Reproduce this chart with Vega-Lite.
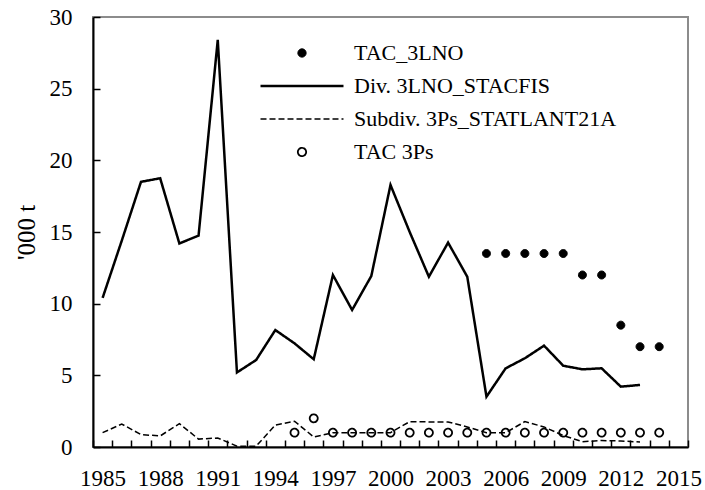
{
  "$schema": "https://vega.github.io/schema/vega-lite/v6.json",
  "width": 595,
  "height": 430,
  "autosize": {"type": "none"},
  "padding": {"left": 93, "top": 17, "right": 17, "bottom": 43},
  "background": "white",
  "config": {
    "view": {"stroke": "#8c8c8c", "strokeWidth": 2},
    "font": "Liberation Serif",
    "axis": {
      "grid": false,
      "domainColor": "black",
      "domainWidth": 2,
      "tickColor": "black",
      "tickWidth": 1.5,
      "labelColor": "black",
      "labelFont": "Liberation Serif",
      "labelFontSize": 23,
      "titleFont": "Liberation Serif",
      "titleFontWeight": "normal",
      "titleColor": "black"
    },
    "legend": {
      "orient": "none",
      "legendX": 166,
      "legendY": 24,
      "padding": 0,
      "symbolSize": 6889,
      "symbolStrokeColor": "black",
      "symbolOpacity": 1,
      "clipHeight": 24,
      "labelFont": "Liberation Serif",
      "labelFontSize": 22,
      "labelColor": "black",
      "labelOffset": 9,
      "rowPadding": 9,
      "labelLimit": 400
    }
  },
  "data": {
    "values": [
      {"year": 1985, "value": 10.4, "series": "Div. 3LNO_STACFIS"},
      {"year": 1986, "value": 14.4, "series": "Div. 3LNO_STACFIS"},
      {"year": 1987, "value": 18.5, "series": "Div. 3LNO_STACFIS"},
      {"year": 1988, "value": 18.75, "series": "Div. 3LNO_STACFIS"},
      {"year": 1989, "value": 14.2, "series": "Div. 3LNO_STACFIS"},
      {"year": 1990, "value": 14.75, "series": "Div. 3LNO_STACFIS"},
      {"year": 1991, "value": 28.4, "series": "Div. 3LNO_STACFIS"},
      {"year": 1992, "value": 5.2, "series": "Div. 3LNO_STACFIS"},
      {"year": 1993, "value": 6.07, "series": "Div. 3LNO_STACFIS"},
      {"year": 1994, "value": 8.16, "series": "Div. 3LNO_STACFIS"},
      {"year": 1995, "value": 7.23, "series": "Div. 3LNO_STACFIS"},
      {"year": 1996, "value": 6.12, "series": "Div. 3LNO_STACFIS"},
      {"year": 1997, "value": 12.0, "series": "Div. 3LNO_STACFIS"},
      {"year": 1998, "value": 9.56, "series": "Div. 3LNO_STACFIS"},
      {"year": 1999, "value": 11.93, "series": "Div. 3LNO_STACFIS"},
      {"year": 2000, "value": 18.28, "series": "Div. 3LNO_STACFIS"},
      {"year": 2001, "value": 15.0, "series": "Div. 3LNO_STACFIS"},
      {"year": 2002, "value": 11.88, "series": "Div. 3LNO_STACFIS"},
      {"year": 2003, "value": 14.26, "series": "Div. 3LNO_STACFIS"},
      {"year": 2004, "value": 11.88, "series": "Div. 3LNO_STACFIS"},
      {"year": 2005, "value": 3.51, "series": "Div. 3LNO_STACFIS"},
      {"year": 2006, "value": 5.49, "series": "Div. 3LNO_STACFIS"},
      {"year": 2007, "value": 6.19, "series": "Div. 3LNO_STACFIS"},
      {"year": 2008, "value": 7.07, "series": "Div. 3LNO_STACFIS"},
      {"year": 2009, "value": 5.67, "series": "Div. 3LNO_STACFIS"},
      {"year": 2010, "value": 5.42, "series": "Div. 3LNO_STACFIS"},
      {"year": 2011, "value": 5.49, "series": "Div. 3LNO_STACFIS"},
      {"year": 2012, "value": 4.21, "series": "Div. 3LNO_STACFIS"},
      {"year": 2013, "value": 4.33, "series": "Div. 3LNO_STACFIS"},

      {"year": 1985, "value": 1.0, "series": "Subdiv. 3Ps_STATLANT21A"},
      {"year": 1986, "value": 1.6, "series": "Subdiv. 3Ps_STATLANT21A"},
      {"year": 1987, "value": 0.87, "series": "Subdiv. 3Ps_STATLANT21A"},
      {"year": 1988, "value": 0.77, "series": "Subdiv. 3Ps_STATLANT21A"},
      {"year": 1989, "value": 1.63, "series": "Subdiv. 3Ps_STATLANT21A"},
      {"year": 1990, "value": 0.55, "series": "Subdiv. 3Ps_STATLANT21A"},
      {"year": 1991, "value": 0.63, "series": "Subdiv. 3Ps_STATLANT21A"},
      {"year": 1992, "value": 0.06, "series": "Subdiv. 3Ps_STATLANT21A"},
      {"year": 1993, "value": 0.06, "series": "Subdiv. 3Ps_STATLANT21A"},
      {"year": 1994, "value": 1.53, "series": "Subdiv. 3Ps_STATLANT21A"},
      {"year": 1995, "value": 1.8, "series": "Subdiv. 3Ps_STATLANT21A"},
      {"year": 1996, "value": 0.7, "series": "Subdiv. 3Ps_STATLANT21A"},
      {"year": 1997, "value": 1.0, "series": "Subdiv. 3Ps_STATLANT21A"},
      {"year": 1998, "value": 1.0, "series": "Subdiv. 3Ps_STATLANT21A"},
      {"year": 1999, "value": 1.0, "series": "Subdiv. 3Ps_STATLANT21A"},
      {"year": 2000, "value": 1.0, "series": "Subdiv. 3Ps_STATLANT21A"},
      {"year": 2001, "value": 1.77, "series": "Subdiv. 3Ps_STATLANT21A"},
      {"year": 2002, "value": 1.75, "series": "Subdiv. 3Ps_STATLANT21A"},
      {"year": 2003, "value": 1.75, "series": "Subdiv. 3Ps_STATLANT21A"},
      {"year": 2004, "value": 1.4, "series": "Subdiv. 3Ps_STATLANT21A"},
      {"year": 2005, "value": 1.0, "series": "Subdiv. 3Ps_STATLANT21A"},
      {"year": 2006, "value": 1.0, "series": "Subdiv. 3Ps_STATLANT21A"},
      {"year": 2007, "value": 1.77, "series": "Subdiv. 3Ps_STATLANT21A"},
      {"year": 2008, "value": 1.4, "series": "Subdiv. 3Ps_STATLANT21A"},
      {"year": 2009, "value": 0.8, "series": "Subdiv. 3Ps_STATLANT21A"},
      {"year": 2010, "value": 0.37, "series": "Subdiv. 3Ps_STATLANT21A"},
      {"year": 2011, "value": 0.45, "series": "Subdiv. 3Ps_STATLANT21A"},
      {"year": 2012, "value": 0.42, "series": "Subdiv. 3Ps_STATLANT21A"},
      {"year": 2013, "value": 0.35, "series": "Subdiv. 3Ps_STATLANT21A"},

      {"year": 2005, "value": 13.5, "series": "TAC_3LNO"},
      {"year": 2006, "value": 13.5, "series": "TAC_3LNO"},
      {"year": 2007, "value": 13.5, "series": "TAC_3LNO"},
      {"year": 2008, "value": 13.5, "series": "TAC_3LNO"},
      {"year": 2009, "value": 13.5, "series": "TAC_3LNO"},
      {"year": 2010, "value": 12.0, "series": "TAC_3LNO"},
      {"year": 2011, "value": 12.0, "series": "TAC_3LNO"},
      {"year": 2012, "value": 8.5, "series": "TAC_3LNO"},
      {"year": 2013, "value": 7.0, "series": "TAC_3LNO"},
      {"year": 2014, "value": 7.0, "series": "TAC_3LNO"},

      {"year": 1995, "value": 1.0, "series": "TAC 3Ps"},
      {"year": 1996, "value": 2.0, "series": "TAC 3Ps"},
      {"year": 1997, "value": 1.0, "series": "TAC 3Ps"},
      {"year": 1998, "value": 1.0, "series": "TAC 3Ps"},
      {"year": 1999, "value": 1.0, "series": "TAC 3Ps"},
      {"year": 2000, "value": 1.0, "series": "TAC 3Ps"},
      {"year": 2001, "value": 1.0, "series": "TAC 3Ps"},
      {"year": 2002, "value": 1.0, "series": "TAC 3Ps"},
      {"year": 2003, "value": 1.0, "series": "TAC 3Ps"},
      {"year": 2004, "value": 1.0, "series": "TAC 3Ps"},
      {"year": 2005, "value": 1.0, "series": "TAC 3Ps"},
      {"year": 2006, "value": 1.0, "series": "TAC 3Ps"},
      {"year": 2007, "value": 1.0, "series": "TAC 3Ps"},
      {"year": 2008, "value": 1.0, "series": "TAC 3Ps"},
      {"year": 2009, "value": 1.0, "series": "TAC 3Ps"},
      {"year": 2010, "value": 1.0, "series": "TAC 3Ps"},
      {"year": 2011, "value": 1.0, "series": "TAC 3Ps"},
      {"year": 2012, "value": 1.0, "series": "TAC 3Ps"},
      {"year": 2013, "value": 1.0, "series": "TAC 3Ps"},
      {"year": 2014, "value": 1.0, "series": "TAC 3Ps"}
    ]
  },
  "encoding": {
    "x": {
      "field": "year",
      "type": "quantitative",
      "scale": {"domain": [1984.5, 2015.5], "nice": false, "zero": false},
      "axis": {
        "title": null,
        "values": [1984.5, 1985.5, 1986.5, 1987.5, 1988.5, 1989.5, 1990.5, 1991.5, 1992.5, 1993.5, 1994.5, 1995.5, 1996.5, 1997.5, 1998.5, 1999.5, 2000.5, 2001.5, 2002.5, 2003.5, 2004.5, 2005.5, 2006.5, 2007.5, 2008.5, 2009.5, 2010.5, 2011.5, 2012.5, 2013.5, 2014.5, 2015.5],
        "labelExpr": "(datum.value + 0.5 - 1985) % 3 == 0 ? format(datum.value + 0.5, 'd') : ''",
        "labelOffset": 9.6,
        "tickSize": -7,
        "labelPadding": 27,
        "labelFlush": false,
        "labelOverlap": false,
        "labelBound": false
      }
    },
    "y": {
      "field": "value",
      "type": "quantitative",
      "scale": {"domain": [0, 30], "nice": false},
      "axis": {
        "title": "'000 t",
        "values": [0, 5, 10, 15, 20, 25, 30],
        "tickSize": -7,
        "labelPadding": 28,
        "titleFontSize": 25,
        "titlePadding": 10
      }
    }
  },
  "layer": [
    {
      "transform": [{"filter": {"field": "series", "oneOf": ["Div. 3LNO_STACFIS", "Subdiv. 3Ps_STATLANT21A"]}}],
      "mark": {"type": "line", "color": "black"},
      "encoding": {
        "strokeDash": {
          "field": "series",
          "type": "nominal",
          "scale": {
            "type": "ordinal",
            "domain": ["TAC_3LNO", "Div. 3LNO_STACFIS", "Subdiv. 3Ps_STATLANT21A", "TAC 3Ps"],
            "range": [[1, 0], [1, 0], [6, 3], [1, 0]]
          },
          "legend": {"title": null, "encode": {"symbols": {"update": {"stroke": {"value": "black"}}}}}
        },
        "strokeWidth": {
          "field": "series",
          "type": "nominal",
          "scale": {
            "type": "ordinal",
            "domain": ["TAC_3LNO", "Div. 3LNO_STACFIS", "Subdiv. 3Ps_STATLANT21A", "TAC 3Ps"],
            "range": [1, 2.5, 1.5, 1.8]
          },
          "legend": {"title": null, "encode": {"symbols": {"update": {"stroke": {"value": "black"}}}}}
        }
      }
    },
    {
      "transform": [{"filter": {"field": "series", "oneOf": ["TAC_3LNO", "TAC 3Ps"]}}],
      "mark": {"type": "point", "filled": true, "stroke": "black", "size": 6400, "opacity": 1},
      "encoding": {
        "shape": {
          "field": "series",
          "type": "nominal",
          "scale": {
            "type": "ordinal",
            "domain": ["TAC_3LNO", "Div. 3LNO_STACFIS", "Subdiv. 3Ps_STATLANT21A", "TAC 3Ps"],
            "range": ["M -0.1,0 A 0.1,0.1 0 1,0 0.1,0 A 0.1,0.1 0 1,0 -0.1,0 Z", "stroke", "stroke", "M -0.1,0 A 0.1,0.1 0 1,0 0.1,0 A 0.1,0.1 0 1,0 -0.1,0 Z"]
          },
          "legend": {"title": null, "encode": {"symbols": {"update": {"stroke": {"value": "black"}}}}}
        },
        "fill": {
          "field": "series",
          "type": "nominal",
          "scale": {
            "type": "ordinal",
            "domain": ["TAC_3LNO", "Div. 3LNO_STACFIS", "Subdiv. 3Ps_STATLANT21A", "TAC 3Ps"],
            "range": ["black", "transparent", "transparent", "transparent"]
          },
          "legend": {"title": null, "encode": {"symbols": {"update": {"stroke": {"value": "black"}}}}}
        },
        "strokeWidth": {
          "field": "series",
          "type": "nominal",
          "scale": {
            "type": "ordinal",
            "domain": ["TAC_3LNO", "Div. 3LNO_STACFIS", "Subdiv. 3Ps_STATLANT21A", "TAC 3Ps"],
            "range": [1, 2.5, 1.5, 1.8]
          },
          "legend": {"title": null, "encode": {"symbols": {"update": {"stroke": {"value": "black"}}}}}
        },
        "strokeDash": {
          "field": "series",
          "type": "nominal",
          "scale": {
            "type": "ordinal",
            "domain": ["TAC_3LNO", "Div. 3LNO_STACFIS", "Subdiv. 3Ps_STATLANT21A", "TAC 3Ps"],
            "range": [[1, 0], [1, 0], [6, 3], [1, 0]]
          },
          "legend": {"title": null, "encode": {"symbols": {"update": {"stroke": {"value": "black"}}}}}
        }
      }
    }
  ]
}
